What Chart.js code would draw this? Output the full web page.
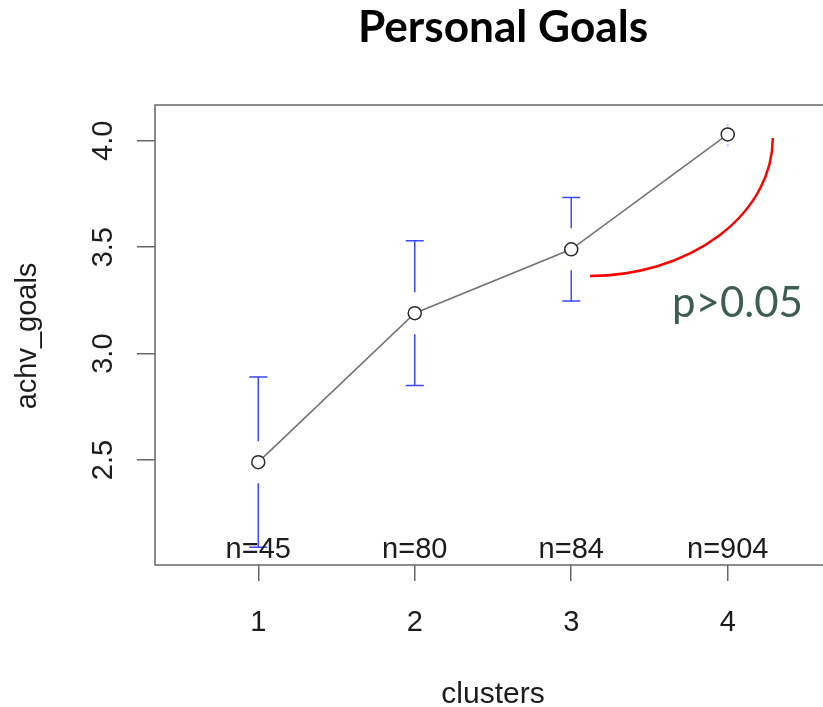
<!DOCTYPE html>
<html>
<head>
<meta charset="utf-8">
<script src="https://cdn.jsdelivr.net/npm/chart.js@4.4.1/dist/chart.umd.min.js"></script>
<style>
  html, body { margin: 0; padding: 0; background: #fff; }
  #wrap { position: relative; width: 823px; height: 707px; overflow: hidden; }
  #grafico { position: absolute; left: 0; top: 0; }
</style>
</head>
<body>
<div id="wrap"><canvas id="grafico" width="840" height="707"></canvas></div>
<script>
// dados
const clusters = [1, 2, 3, 4];
const xTickLabels = ['1', '2', '3', '4'];
const means = [2.49, 3.19, 3.49, 4.03];
const errors = [0.40, 0.34, 0.243, 0.04];
const counts = ['n=45', 'n=80', 'n=84', 'n=904'];
const yTicks = [2.5, 3.0, 3.5, 4.0];
const yTickLabels = ['2.5', '3.0', '3.5', '4.0'];

const titulo = 'Personal Goals';
const xTitulo = 'clusters';
const yTitulo = 'achv_goals';
const nota = 'p>0.05';

const RFONT = '"Liberation Sans", Arial, sans-serif';
const TXT = '#1c1c1c';

function fitFont(ctx, text, weight, family, width) {
    ctx.font = weight + ' 100px ' + family;
    const w = ctx.measureText(text).width;
    return 100 * width / w;
}

const rPlot = {
    id: 'rPlot',
    afterDatasetsDraw(chart) {
        const ctx = chart.ctx;
        const xs = chart.scales.x, ys = chart.scales.y;
        const gap = 21, cap = 9;
        ctx.save();
        ctx.strokeStyle = '#3a48ff';
        ctx.lineWidth = 1.5;
        clusters.forEach((c, i) => {
            const px = xs.getPixelForValue(c);
            const pm = ys.getPixelForValue(means[i]);
            const pu = ys.getPixelForValue(means[i] + errors[i]);
            const pl = ys.getPixelForValue(means[i] - errors[i]);
            if (pm - gap > pu) {
                ctx.beginPath();
                ctx.moveTo(px, pm - gap); ctx.lineTo(px, pu);
                ctx.moveTo(px - cap, pu); ctx.lineTo(px + cap, pu);
                ctx.moveTo(px, pm + gap); ctx.lineTo(px, pl);
                ctx.moveTo(px - cap, pl); ctx.lineTo(px + cap, pl);
                ctx.stroke();
            } else {
                // barra curta demais: só sobram pontinhos claros
                ctx.fillStyle = 'rgba(90,100,255,0.3)';
                ctx.fillRect(px - 1, pu - 2, 2, 3);
                ctx.fillRect(px - 1, pl + 1, 2, 3);
            }
        });
        ctx.restore();
    },
    afterDraw(chart) {
        const ctx = chart.ctx;
        const a = chart.chartArea;
        const xs = chart.scales.x, ys = chart.scales.y;
        ctx.save();

        // caixa do gráfico
        ctx.strokeStyle = '#666';
        ctx.lineWidth = 1.5;
        ctx.strokeRect(a.left, a.top, a.right - a.left, a.bottom - a.top);

        // textos estilo R
        ctx.fillStyle = TXT;
        ctx.font = '29px ' + RFONT;
        ctx.textAlign = 'center';
        ctx.textBaseline = 'alphabetic';
        clusters.forEach((c, i) => {
            const px = xs.getPixelForValue(c);
            ctx.fillText(counts[i], px, a.bottom - 7);
            ctx.fillText(xTickLabels[i], px, 631);
        });
        ctx.save();
        ctx.font = '30px ' + RFONT;
        ctx.fillText(xTitulo, 493, 703);
        ctx.restore();

        yTicks.forEach((v, i) => {
            const py = ys.getPixelForValue(v);
            ctx.save();
            ctx.translate(112, py);
            ctx.rotate(-Math.PI / 2);
            ctx.fillText(yTickLabels[i], 0, 0);
            ctx.restore();
        });
        ctx.save();
        ctx.translate(36, 336);
        ctx.rotate(-Math.PI / 2);
        ctx.fillText(yTitulo, 0, 0);
        ctx.restore();

        // título
        const tSize = fitFont(ctx, titulo, 'bold', 'Lato', 290);
        ctx.font = 'bold ' + tSize.toFixed(1) + 'px Lato';
        ctx.fillStyle = '#000';
        ctx.fillText(titulo, 503, 42);

        // arco vermelho e nota
        const sx = xs.getPixelForValue(3.12), sy = ys.getPixelForValue(3.365);
        const ex = xs.getPixelForValue(4.288), ey = ys.getPixelForValue(4.013);
        ctx.beginPath();
        ctx.ellipse(sx, ey, ex - sx, sy - ey, 0, 0, Math.PI / 2);
        ctx.strokeStyle = '#ff0000';
        ctx.lineWidth = 2.5;
        ctx.stroke();

        const nSize = fitFont(ctx, nota, 'normal', 'Lato', 131);
        ctx.font = nSize.toFixed(1) + 'px Lato';
        ctx.fillStyle = '#3d5c53';
        ctx.textAlign = 'left';
        ctx.fillText(nota, 672, 317);

        ctx.restore();
    }
};

const ctx = document.getElementById('grafico').getContext('2d');
new Chart(ctx, {
    type: 'line',
    data: {
        datasets: [{
            data: clusters.map((c, i) => ({ x: c, y: means[i] })),
            borderColor: '#737373',
            borderWidth: 1.6,
            pointRadius: 6.5,
            pointBorderColor: '#2a2a2a',
            pointBorderWidth: 1.5,
            pointBackgroundColor: '#fff',
            tension: 0
        }]
    },
    options: {
        responsive: false,
        animation: false,
        devicePixelRatio: 1,
        layout: { padding: { top: 105, right: 9, left: 0, bottom: 0 } },
        plugins: { legend: { display: false }, tooltip: { enabled: false } },
        scales: {
            x: {
                type: 'linear',
                min: 0.34, max: 4.66,
                afterBuildTicks: s => { s.ticks = clusters.map(v => ({ value: v })); },
                afterFit: s => { s.height = 142; },
                ticks: { display: false },
                border: { display: false },
                grid: { drawOnChartArea: false, drawTicks: true, tickLength: 16, color: '#666', lineWidth: 1.5 }
            },
            y: {
                min: 2.007, max: 4.168,
                afterBuildTicks: s => { s.ticks = yTicks.map(v => ({ value: v })); },
                afterFit: s => { s.width = 155; },
                ticks: { display: false },
                border: { display: false },
                grid: { drawOnChartArea: false, drawTicks: true, tickLength: 18, color: '#666', lineWidth: 1.5 }
            }
        }
    },
    plugins: [rPlot]
});
</script>
</body>
</html>
